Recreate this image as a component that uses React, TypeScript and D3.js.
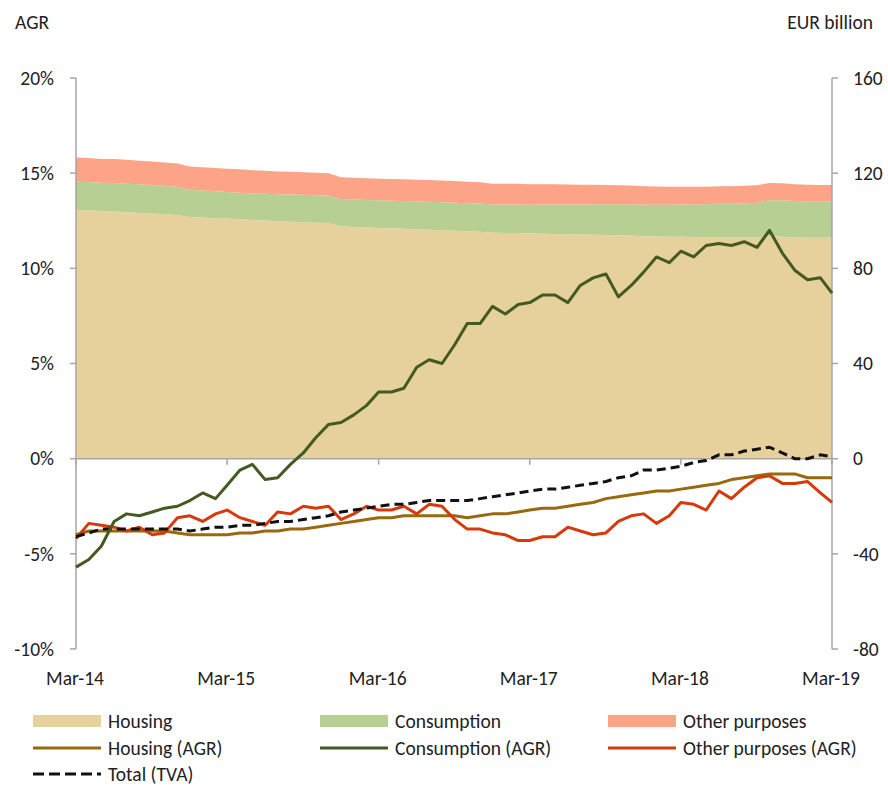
import React from "react";
import * as d3 from "d3";

const xTickLabels = ["Mar-14", "Mar-15", "Mar-16", "Mar-17", "Mar-18", "Mar-19"];
const leftTicks = [-10, -5, 0, 5, 10, 15, 20];
const rightTicks = [-80, -40, 0, 40, 80, 120, 160];

// EUR billion (right axis), monthly Mar-14 .. Mar-19
const housingStock = [
  104.6, 104.4, 104.1, 103.9, 103.6, 103.3, 103.0, 102.7, 102.3,
  101.6,
  101.4, 101.1, 100.9, 100.6, 100.3, 100.1, 99.8, 99.6, 99.4, 99.2, 99.0,
  97.7,
  97.4, 97.2, 97.0, 96.8, 96.6, 96.4, 96.2, 96.0, 95.8, 95.6, 95.4,
  95.0,
  94.9, 94.8, 94.6, 94.5, 94.4, 94.3, 94.2, 94.1, 94.0, 93.9, 93.8,
  93.5,
  93.4, 93.3, 93.3, 93.2, 93.1, 93.1, 93.0, 93.0, 93.1, 93.4, 93.3,
  93.0, 92.9, 92.9, 92.9,
];
const consumptionStock = [
  11.8, 11.9, 11.9, 12.0, 12.0, 12.0, 12.0, 12.0, 12.0,
  11.4,
  11.3, 11.3, 11.2, 11.2, 11.2, 11.2, 11.3, 11.4, 11.5, 11.5, 11.6,
  11.4,
  11.5, 11.5, 11.6, 11.6, 11.7, 11.7, 11.8, 11.8, 11.8, 11.8, 11.8,
  11.8,
  11.9, 12.0, 12.1, 12.3, 12.4, 12.5, 12.6, 12.8, 12.9, 13.0, 13.1,
  13.2,
  13.3, 13.4, 13.5, 13.7, 13.8, 14.0, 14.1, 14.3, 14.5, 15.2, 15.3,
  15.3, 15.3, 15.3, 15.3,
];
const otherStock = [
  10.2, 10.1, 10.0, 10.1, 10.0, 9.9, 9.9, 9.8, 9.8,
  9.8,
  9.8, 9.8, 9.8, 9.8, 9.7, 9.7, 9.6, 9.6, 9.5, 9.5, 9.4,
  9.2,
  9.2, 9.2, 9.1, 9.1, 9.1, 9.1, 9.1, 9.1, 9.1, 9.0, 9.0,
  8.8,
  8.8, 8.7, 8.6, 8.5, 8.5, 8.4, 8.3, 8.2, 8.1, 8.0, 7.9,
  7.8,
  7.7, 7.6, 7.5, 7.4, 7.4, 7.4, 7.4, 7.4, 7.3, 7.3, 7.2,
  7.0, 6.9, 6.8, 6.8,
];

// Annual growth rates, % (left axis)
const housingAgr = [
  -4.0, -3.8, -3.8, -3.8, -3.8, -3.8, -3.8, -3.8, -3.9, -4.0,
  -4.0, -4.0, -4.0, -3.9, -3.9, -3.8, -3.8, -3.7, -3.7, -3.6,
  -3.5, -3.4, -3.3, -3.2, -3.1, -3.1, -3.0, -3.0, -3.0, -3.0,
  -3.0, -3.1, -3.0, -2.9, -2.9, -2.8, -2.7, -2.6, -2.6, -2.5,
  -2.4, -2.3, -2.1, -2.0, -1.9, -1.8, -1.7, -1.7, -1.6, -1.5,
  -1.4, -1.3, -1.1, -1.0, -0.9, -0.8, -0.8, -0.8, -1.0, -1.0,
  -1.0,
];
const consumptionAgr = [
  -5.7, -5.3, -4.6, -3.3, -2.9, -3.0, -2.8, -2.6, -2.5, -2.2,
  -1.8, -2.1, -1.4, -0.6, -0.3, -1.1, -1.0, -0.3, 0.3, 1.1,
  1.8, 1.9, 2.3, 2.8, 3.5, 3.5, 3.7, 4.8, 5.2, 5.0,
  6.0, 7.1, 7.1, 8.0, 7.6, 8.1, 8.2, 8.6, 8.6, 8.2,
  9.1, 9.5, 9.7, 8.5, 9.1, 9.8, 10.6, 10.3, 10.9, 10.6,
  11.2, 11.3, 11.2, 11.4, 11.1, 12.0, 10.8, 9.9, 9.4, 9.5,
  8.7,
];
const otherAgr = [
  -4.2, -3.4, -3.5, -3.6, -3.8, -3.6, -4.0, -3.9, -3.1, -3.0,
  -3.3, -2.9, -2.7, -3.1, -3.3, -3.5, -2.8, -2.9, -2.5, -2.6,
  -2.5, -3.2, -2.9, -2.5, -2.7, -2.7, -2.5, -2.9, -2.4, -2.5,
  -3.2, -3.7, -3.7, -3.9, -4.0, -4.3, -4.3, -4.1, -4.1, -3.6,
  -3.8, -4.0, -3.9, -3.3, -3.0, -2.9, -3.4, -3.0, -2.3, -2.4,
  -2.7, -1.7, -2.1, -1.5, -1.0, -0.9, -1.3, -1.3, -1.2, -1.8,
  -2.3,
];
const totalTva = [
  -4.1, -3.9, -3.7, -3.7, -3.7, -3.7, -3.7, -3.7, -3.7, -3.8,
  -3.7, -3.6, -3.6, -3.5, -3.5, -3.4, -3.3, -3.3, -3.2, -3.1,
  -3.0, -2.8, -2.7, -2.6, -2.5, -2.4, -2.4, -2.3, -2.2, -2.2,
  -2.2, -2.2, -2.1, -2.0, -1.9, -1.8, -1.7, -1.6, -1.6, -1.5,
  -1.4, -1.3, -1.2, -1.0, -0.9, -0.6, -0.6, -0.5, -0.4, -0.2,
  -0.1, 0.2, 0.2, 0.4, 0.5, 0.6, 0.3, 0.0, 0.0, 0.2,
  0.1,
];

const C = {
  housing: "#E6D19D",
  consumption: "#B8CF93",
  other: "#FDA387",
  housingLine: "#98690F",
  consumptionLine: "#435A22",
  otherLine: "#D53A0B",
  total: "#111111",
  axis: "#A6A6A6",
  text: "#222222",
};

const FONT = "Carlito, Lato, 'Open Sans', sans-serif";
const FS = 19.5;

export default function App() {
  const W = 888, H = 786;
  const x0 = 76, x1 = 832, yTop = 78, yBot = 649;

  const dates = d3.timeMonth.range(new Date(2014, 2, 1), new Date(2019, 3, 1));
  const x = d3.scaleTime().domain([dates[0], dates[dates.length - 1]]).range([x0, x1]);
  const yL = d3.scaleLinear().domain([-10, 20]).range([yBot, yTop]);
  const yR = d3.scaleLinear().domain([-80, 160]).range([yBot, yTop]);

  const rows = dates.map((d, i) => ({
    date: d,
    housing: housingStock[i],
    consumption: consumptionStock[i],
    other: otherStock[i],
  }));
  const stack = d3.stack<any>().keys(["housing", "consumption", "other"])(rows);
  const area = d3
    .area<any>()
    .x((d: any) => x(d.data.date))
    .y0((d: any) => yR(d[0]))
    .y1((d: any) => yR(d[1]));
  const areaColors = [C.housing, C.consumption, C.other];

  const line = (vals: number[]) =>
    d3
      .line<number>()
      .x((_, i) => x(dates[i]))
      .y((v) => yL(v))(vals) as string;

  const tickDates = xTickLabels.map((_, k) => new Date(2014 + k, 2, 1));

  const legendCols = [33, 320, 608];
  const legendRows = [721, 748, 774];
  const legendItems = [
    { label: "Housing", type: "rect", color: C.housing, col: 0, row: 0 },
    { label: "Consumption", type: "rect", color: C.consumption, col: 1, row: 0 },
    { label: "Other purposes", type: "rect", color: C.other, col: 2, row: 0 },
    { label: "Housing (AGR)", type: "line", color: C.housingLine, col: 0, row: 1 },
    { label: "Consumption (AGR)", type: "line", color: C.consumptionLine, col: 1, row: 1 },
    { label: "Other purposes (AGR)", type: "line", color: C.otherLine, col: 2, row: 1 },
    { label: "Total (TVA)", type: "dash", color: C.total, col: 0, row: 2 },
  ];

  return (
    <svg
      width={W}
      height={H}
      style={{ position: "absolute", left: 0, top: 0, background: "#fff" }}
      fontFamily={FONT}
    >
      {stack.map((s, k) => (
        <path key={k} d={area(s) as string} fill={areaColors[k]} stroke="none" />
      ))}

      {/* left axis */}
      <line x1={x0} x2={x0} y1={yTop} y2={yBot} stroke={C.axis} strokeWidth={1.5} />
      {leftTicks.map((t) => (
        <g key={"l" + t}>
          <line x1={x0 - 6} x2={x0} y1={yL(t)} y2={yL(t)} stroke={C.axis} strokeWidth={1.5} />
          <text x={54} y={yL(t)} dy="0.35em" textAnchor="end" fontSize={FS} fill={C.text}>
            {t + "%"}
          </text>
        </g>
      ))}
      {/* right axis */}
      <line x1={x1} x2={x1} y1={yTop} y2={yBot} stroke={C.axis} strokeWidth={1.5} />
      {rightTicks.map((t) => (
        <g key={"r" + t}>
          <line x1={x1} x2={x1 + 6} y1={yR(t)} y2={yR(t)} stroke={C.axis} strokeWidth={1.5} />
          <text x={853} y={yR(t)} dy="0.35em" textAnchor="start" fontSize={FS} fill={C.text}>
            {t}
          </text>
        </g>
      ))}
      {/* x axis at zero */}
      <line x1={x0} x2={x1} y1={yL(0)} y2={yL(0)} stroke={C.axis} strokeWidth={1.5} />
      {tickDates.map((d, k) => (
        <g key={"x" + k}>
          <line x1={x(d)} x2={x(d)} y1={yL(0)} y2={yL(0) + 6} stroke={C.axis} strokeWidth={1.5} />
          <text x={x(d) - 1} y={678} dy="0.35em" textAnchor="middle" fontSize={FS} fill={C.text}>
            {xTickLabels[k]}
          </text>
        </g>
      ))}

      <text x={15} y={22} dy="0.35em" fontSize={FS} fill={C.text}>AGR</text>
      <text x={873} y={22} dy="0.35em" textAnchor="end" fontSize={FS} fill={C.text}>EUR billion</text>

      {/* lines */}
      <path d={line(housingAgr)} fill="none" stroke={C.housingLine} strokeWidth={3} strokeLinejoin="round" />
      <path d={line(otherAgr)} fill="none" stroke={C.otherLine} strokeWidth={3} strokeLinejoin="round" />
      <path d={line(totalTva)} fill="none" stroke={C.total} strokeWidth={3} strokeDasharray="9 5" />
      <path d={line(consumptionAgr)} fill="none" stroke={C.consumptionLine} strokeWidth={3} strokeLinejoin="round" />

      {/* legend */}
      {legendItems.map((it, k) => {
        const lx = legendCols[it.col];
        const ly = legendRows[it.row];
        return (
          <g key={"lg" + k}>
            {it.type === "rect" && <rect x={lx} y={ly - 6} width={68} height={12} fill={it.color} />}
            {it.type === "line" && (
              <line x1={lx} x2={lx + 68} y1={ly} y2={ly} stroke={it.color} strokeWidth={3} />
            )}
            {it.type === "dash" && (
              <line x1={lx} x2={lx + 68} y1={ly} y2={ly} stroke={it.color} strokeWidth={3} strokeDasharray="11 5" />
            )}
            <text x={lx + 75} y={ly} dy="0.35em" fontSize={FS} fill={C.text}>
              {it.label}
            </text>
          </g>
        );
      })}
    </svg>
  );
}
